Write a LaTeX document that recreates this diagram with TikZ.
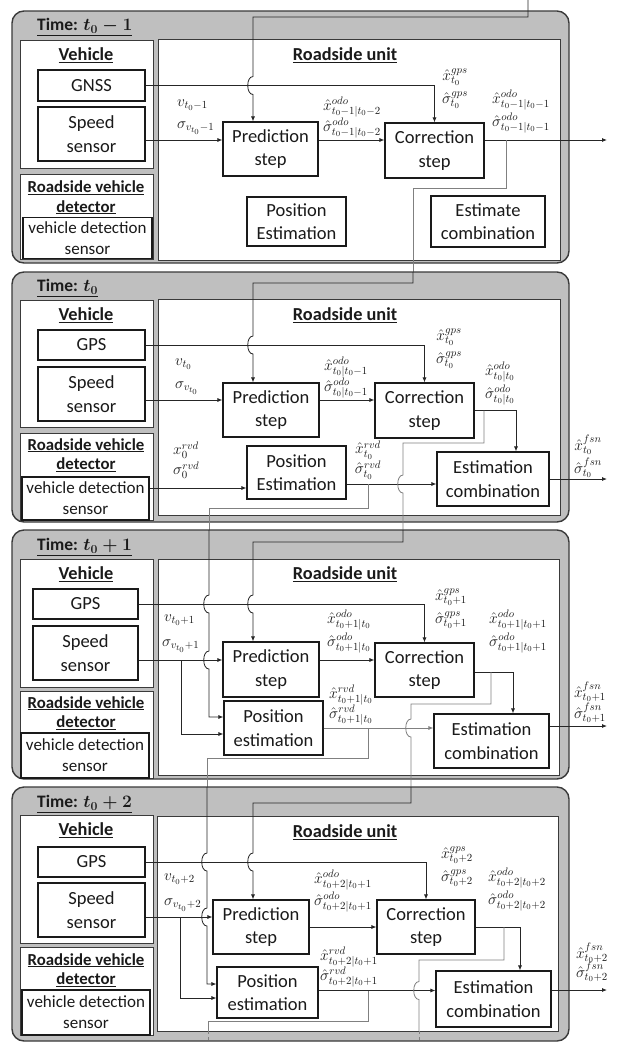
\RequirePackage{fix-cm}
\documentclass[tikz,border=0pt]{standalone}
\usepackage[no-math]{fontspec}
\setmainfont{Carlito}
\usetikzlibrary{arrows.meta,calc}
\definecolor{rsuPanel}{HTML}{BFBFBF}
\definecolor{rsuEdge}{HTML}{3A3A3A}
\definecolor{rsuInk}{HTML}{1A1A1A}
\definecolor{rsuWire}{HTML}{262626}
\definecolor{rsuFeed}{HTML}{808080}
% jump of a vertical wire over a horizontal one
\newcommand{\hop}[1]{-- ($(#1)+(0,-9)$) .. controls +(-7,0) and +(-7,0) .. ($(#1)+(0,9)$)}

\begin{document}
\begin{tikzpicture}[x=1pt,y=-1pt,>={Latex[length=5pt,width=4pt]}]
\useasboundingbox (0,0) rectangle (618,1042);
\path[fill=white] (0,0) rectangle (618,1042);
\tikzset{panel/.style={draw=rsuEdge,fill=rsuPanel,line width=1.4pt,rounded corners=12pt},frame/.style={draw=rsuEdge,fill=white,line width=1pt},
blk/.style={draw=rsuInk,fill=white,line width=1.1pt,align=center,inner sep=0pt,text=rsuInk,font=\fontsize{18.5}{23.5}\selectfont},
sen/.style={blk,font=\fontsize{17}{21}\selectfont},head/.style={align=center,inner sep=0pt,text=rsuInk,font=\bfseries\boldmath\fontsize{18.3}{21}\selectfont},
subhead/.style={head,font=\bfseries\fontsize{16.8}{19.5}\selectfont},timehead/.style={head,anchor=west,font=\bfseries\boldmath\fontsize{17.5}{20}\selectfont},
lbl/.style={inner sep=0pt,text=rsuInk,font=\fontsize{15.5}{17}\selectfont},wire/.style={draw=rsuWire,line width=0.8pt},feed/.style={draw=rsuFeed,line width=0.8pt}}

% ---- Time t0-1
\draw[panel] (12,11) rectangle (569,263);
\node[timehead] (timeA) at (37,27) {\underline{Time: $t_0-1$}};
\draw[frame] (20,40) rectangle (153,168); \node[head] (vehA) at (86,55) {\underline{Vehicle}};
\node[blk,minimum width=107,minimum height=31] (gnssA) at (91.5,85.5) {GNSS};
\node[blk,minimum width=107,minimum height=54] (spdA) at (91.5,134) {Speed\\sensor};
\draw[frame] (20,174) rectangle (153,259); \node[subhead] (rvdA) at (86,197.5) {\underline{Roadside vehicle}\\\underline{detector}};
\node[sen,minimum width=129,minimum height=41] (senA) at (87.5,238) {vehicle detection\\sensor};
\draw[frame] (158,39) rectangle (560,260); \node[head] (rsuA) at (345,55) {\underline{Roadside unit}};
\node[blk,minimum width=95,minimum height=54] (predA) at (270.5,149) {Prediction\\step};
\node[blk,minimum width=99,minimum height=55] (corrA) at (434.5,150.5) {Correction\\step};
\node[blk,minimum width=99,minimum height=49] (posA) at (296.5,221.5) {Position\\Estimation};
\node[blk,minimum width=114,minimum height=51] (combA) at (488,221.5) {Estimate\\combination};
\node[lbl,anchor=west] (vA) at (177,105) {$v_{t_0-1}$}; \node[lbl,anchor=west] (svA) at (177,128) {$\sigma_{v_{t_0}-1}$};
\node[lbl] (xoA) at (352,107) {$\hat{x}^{odo}_{t_0-1|t_0-2}$}; \node[lbl] (soA) at (352,128) {$\hat{\sigma}^{odo}_{t_0-1|t_0-2}$};
\node[lbl] (xgA) at (455,77) {$\hat{x}^{gps}_{t_0}$}; \node[lbl] (sgA) at (455,100) {$\hat{\sigma}^{gps}_{t_0}$};
\node[lbl] (xcA) at (521,100) {$\hat{x}^{odo}_{t_0-1|t_0-1}$}; \node[lbl] (scA) at (521,123) {$\hat{\sigma}^{odo}_{t_0-1|t_0-1}$};
\coordinate (inA) at (528,0); \coordinate (bendA) at (253,17); \coordinate (outA) at (607,140);
\coordinate (tapA) at (506,140); \coordinate (dropA) at (413,188); \coordinate (topB) at (413,272);
\draw[wire,->] (inA) |- (bendA) \hop{bendA |- gnssA.east} -- (bendA |- predA.north);
\draw[wire,->] (gnssA.east) -| (corrA.north);
\draw[wire,->] ([yshift=-6pt]spdA.east) -- ([yshift=-6pt]spdA.east -| predA.west);
\draw[wire,->] ([yshift=9pt]predA.east) -- ([yshift=9pt]predA.east -| corrA.west);
\draw[wire,->] ([yshift=10.5pt]corrA.east) -- (outA);
\draw[feed] (tapA) |- (dropA) -- (topB);

% ---- Time t0
\draw[panel] (12,272) rectangle (569,522);
\node[timehead] (timeB) at (37,288) {\underline{Time: $t_0$}};
\draw[frame] (20,300) rectangle (153,427); \node[head] (vehB) at (86,315) {\underline{Vehicle}};
\node[blk,minimum width=107,minimum height=30] (gpsB) at (91.5,345) {GPS};
\node[blk,minimum width=107,minimum height=54] (spdB) at (91.5,394) {Speed\\sensor};
\draw[frame] (20,433) rectangle (153,520); \node[subhead] (rvdB) at (86,455) {\underline{Roadside vehicle}\\\underline{detector}};
\node[sen,minimum width=127,minimum height=43] (senB) at (85.5,498.5) {vehicle detection\\sensor};
\draw[frame] (158,299) rectangle (560,515); \node[head] (rsuB) at (345,315) {\underline{Roadside unit}};
\node[blk,minimum width=96,minimum height=54] (predB) at (271,410) {Prediction\\step};
\node[blk,minimum width=99,minimum height=55] (corrB) at (424.5,410.5) {Correction\\step};
\node[blk,minimum width=99,minimum height=53] (posB) at (296.5,472.5) {Position\\Estimation};
\node[blk,minimum width=112,minimum height=54] (combB) at (493,479) {Estimation\\combination};
\node[lbl,anchor=west] (vB) at (175,364) {$v_{t_0}$}; \node[lbl,anchor=west] (svB) at (175,388) {$\sigma_{v_{t_0}}$};
\node[lbl] (xoB) at (346,367) {$\hat{x}^{odo}_{t_0|t_0-1}$}; \node[lbl] (soB) at (346,388) {$\hat{\sigma}^{odo}_{t_0|t_0-1}$};
\node[lbl] (xgB) at (449,337) {$\hat{x}^{gps}_{t_0}$}; \node[lbl] (sgB) at (449,360) {$\hat{\sigma}^{gps}_{t_0}$};
\node[lbl] (xcB) at (500,372) {$\hat{x}^{odo}_{t_0|t_0}$}; \node[lbl] (scB) at (500,395) {$\hat{\sigma}^{odo}_{t_0|t_0}$};
\node[lbl,anchor=west] (xrB) at (173,450) {$x^{rvd}_0$}; \node[lbl,anchor=west] (srB) at (173,470) {$\sigma^{rvd}_0$};
\node[lbl] (xpB) at (368,450) {$\hat{x}^{rvd}_{t_0}$}; \node[lbl] (spB) at (368,470) {$\hat{\sigma}^{rvd}_{t_0}$};
\node[lbl] (xfB) at (588,445) {$\hat{x}^{fsn}_{t_0}$}; \node[lbl] (sfB) at (588,468) {$\hat{\sigma}^{fsn}_{t_0}$};
\coordinate (bendB) at (253,283); \coordinate (outB) at (607,479); \coordinate (pcB) at ([yshift=-11.5pt]posB.east);
\coordinate (tapB) at (484,410.5); \coordinate (dropB) at (403,443); \coordinate (topC) at (403,530);
\coordinate (tapPB) at (368,484); \coordinate (dropPB) at (209,508); \coordinate (midC) at (209,530);
\draw[wire,->] (topB) |- (bendB) \hop{bendB |- gpsB.east} -- (bendB |- predB.north);
\draw[wire,->] (gpsB.east) -| (corrB.north);
\draw[wire,->] ([yshift=-6pt]spdB.east) -- ([yshift=-6pt]spdB.east -| predB.west);
\draw[wire,->] ([yshift=10pt]predB.east) -- ([yshift=10pt]predB.east -| corrB.west);
\draw[wire,->] (corrB.east) -| ([xshift=23pt]combB.north);
\draw[wire,->] ([yshift=10.5pt]senB.east) -- ([yshift=10.5pt]senB.east -| posB.west);
\draw[wire,->] (pcB) -- (pcB -| combB.west);
\draw[wire,->] (combB.east) -- (outB);
\draw[feed] (tapB) |- (dropB) \hop{dropB |- pcB} -- (topC);
\draw[feed] (tapPB) |- (dropPB) -- (midC);

% ---- Time t0+1
\draw[panel] (12,530) rectangle (569,779);
\node[timehead] (timeC) at (37,547) {\underline{Time: $t_0+1$}};
\draw[frame] (20,559) rectangle (153,687); \node[head] (vehC) at (86,574) {\underline{Vehicle}};
\node[blk,minimum width=105,minimum height=30] (gpsC) at (85.5,604) {GPS};
\node[blk,minimum width=105,minimum height=54] (spdC) at (85.5,653) {Speed\\sensor};
\draw[frame] (20,691) rectangle (153,778); \node[subhead] (rvdC) at (86,713) {\underline{Roadside vehicle}\\\underline{detector}};
\node[sen,minimum width=128,minimum height=45] (senC) at (85,755.5) {vehicle detection\\sensor};
\draw[frame] (158,559) rectangle (559,775); \node[head] (rsuC) at (345,574) {\underline{Roadside unit}};
\node[blk,minimum width=96,minimum height=55] (predC) at (271,669.5) {Prediction\\step};
\node[blk,minimum width=99,minimum height=54] (corrC) at (424.5,670) {Correction\\step};
\node[blk,minimum width=99,minimum height=54] (posC) at (273.5,728) {Position\\estimation};
\node[blk,minimum width=115,minimum height=54] (combC) at (491.5,741) {Estimation\\combination};
\node[lbl,anchor=west] (vC) at (164,620) {$v_{t_0+1}$}; \node[lbl,anchor=west] (svC) at (162,646) {$\sigma_{v_{t_0}+1}$};
\node[lbl] (xgC) at (451,597) {$\hat{x}^{gps}_{t_0+1}$}; \node[lbl] (sgC) at (451,620) {$\hat{\sigma}^{gps}_{t_0+1}$};
\node[lbl] (xoC) at (349,620) {$\hat{x}^{odo}_{t_0+1|t_0}$}; \node[lbl] (soC) at (349,643) {$\hat{\sigma}^{odo}_{t_0+1|t_0}$};
\node[lbl] (xcC) at (518,620) {$\hat{x}^{odo}_{t_0+1|t_0+1}$}; \node[lbl] (scC) at (518,643) {$\hat{\sigma}^{odo}_{t_0+1|t_0+1}$};
\node[lbl] (xpC) at (351,695) {$\hat{x}^{rvd}_{t_0+1|t_0}$}; \node[lbl] (spC) at (351,715) {$\hat{\sigma}^{rvd}_{t_0+1|t_0}$};
\node[lbl] (xfC) at (590,692) {$\hat{x}^{fsn}_{t_0+1}$}; \node[lbl] (sfC) at (590,713) {$\hat{\sigma}^{fsn}_{t_0+1}$};
\coordinate (bendC) at (253,542); \coordinate (svlC) at ([yshift=-7pt]spdC.east); \coordinate (tapSC) at (181,660);
\coordinate (outC) at (607,726); \coordinate (tapC) at (491,672); \coordinate (dropC) at (411,704); \coordinate (topD) at (411,787);
\coordinate (tapPC) at (368,728); \coordinate (dropPC) at (207,758); \coordinate (midD) at (207,787);
\draw[wire,->] (topC) |- (bendC) \hop{bendC |- gpsC.east} -- (bendC |- predC.north);
\draw[wire,->] (gpsC.east) -| (corrC.north);
\draw[wire,->] (svlC) -- (svlC -| predC.west);
\draw[wire,->] ([yshift=9.5pt]predC.east) -- ([yshift=9.5pt]predC.east -| corrC.west);
\draw[wire,->] ([yshift=-2pt]corrC.east) -| ([xshift=21.5pt]combC.north);
\draw[wire,->] (midC) \hop{midC |- gpsC.east} \hop{midC |- svlC} |- ([yshift=11pt]posC.west);
\draw[wire,->] (tapSC) |- ([yshift=-6pt]posC.west);
\draw[feed,->] (posC.east) -- (posC.east -| combC.west);
\draw[wire,->] ([yshift=15pt]combC.east) -- (outC);
\draw[feed] (tapC) |- (dropC) \hop{dropC |- posC.east} -- (topD);
\draw[feed] (tapPC) |- (dropPC) -- (midD);

% ---- Time t0+2
\draw[panel] (12,787) rectangle (569,1041);
\node[timehead] (timeD) at (37,804) {\underline{Time: $t_0+2$}};
\draw[frame] (20,815) rectangle (153,943); \node[head] (vehD) at (86,830) {\underline{Vehicle}};
\node[blk,minimum width=107,minimum height=30] (gpsD) at (91.5,862) {GPS};
\node[blk,minimum width=107,minimum height=54] (spdD) at (91.5,910) {Speed\\sensor};
\draw[frame] (20,947) rectangle (153,1035); \node[subhead] (rvdD) at (86,970) {\underline{Roadside vehicle}\\\underline{detector}};
\node[sen,minimum width=128,minimum height=45] (senD) at (86,1012.5) {vehicle detection\\sensor};
\draw[frame] (157,816) rectangle (558,1031); \node[head] (rsuD) at (345,832) {\underline{Roadside unit}};
\node[blk,minimum width=96,minimum height=54] (predD) at (261,927) {Prediction\\step};
\node[blk,minimum width=98,minimum height=54] (corrD) at (426,927) {Correction\\step};
\node[blk,minimum width=101,minimum height=51] (posD) at (267.5,992.5) {Position\\estimation};
\node[blk,minimum width=115,minimum height=56] (combD) at (493.5,999) {Estimation\\combination};
\node[lbl,anchor=west] (vD) at (164,879) {$v_{t_0+2}$}; \node[lbl,anchor=west] (svD) at (164,905) {$\sigma_{v_{t_0}+2}$};
\node[lbl] (xoD) at (343,880) {$\hat{x}^{odo}_{t_0+2|t_0+1}$}; \node[lbl] (soD) at (343,902) {$\hat{\sigma}^{odo}_{t_0+2|t_0+1}$};
\node[lbl] (xgD) at (457,855) {$\hat{x}^{gps}_{t_0+2}$}; \node[lbl] (sgD) at (457,878) {$\hat{\sigma}^{gps}_{t_0+2}$};
\node[lbl] (xcD) at (517,878) {$\hat{x}^{odo}_{t_0+2|t_0+2}$}; \node[lbl] (scD) at (517,901) {$\hat{\sigma}^{odo}_{t_0+2|t_0+2}$};
\node[lbl] (xpD) at (349,957) {$\hat{x}^{rvd}_{t_0+2|t_0+1}$}; \node[lbl] (spD) at (349,977) {$\hat{\sigma}^{rvd}_{t_0+2|t_0+1}$};
\node[lbl] (xfD) at (592,953) {$\hat{x}^{fsn}_{t_0+2}$}; \node[lbl] (sfD) at (592,972) {$\hat{\sigma}^{fsn}_{t_0+2}$};
\coordinate (bendD) at (253,803); \coordinate (svlD) at ([yshift=-7pt]spdD.east); \coordinate (tapSD) at (180,917);
\coordinate (pcD) at ([yshift=2pt]posD.east); \coordinate (outD) at (607,990);
\coordinate (tapD) at (504,927); \coordinate (dropD) at (419,960); \coordinate (endD) at (419,1031); \coordinate (tailD) at (419,1042);
\coordinate (tapPD) at (368,990.5); \coordinate (dropPD) at (208,1021); \coordinate (endPD) at (208,1031); \coordinate (tailPD) at (208,1042);
\draw[wire,->] (topD) |- (bendD) \hop{bendD |- gpsD.east} -- (bendD |- predD.north);
\draw[wire,->] (gpsD.east) -| (corrD.north);
\draw[wire,->] (svlD) -- (svlD -| predD.west);
\draw[wire,->] (predD.east) -- (predD.east -| corrD.west);
\draw[wire,->] (corrD.east) -| ([xshift=26.5pt]combD.north);
\draw[wire,->] (midD) \hop{midD |- gpsD.east} \hop{midD |- svlD} |- ([yshift=8.5pt]posD.west);
\draw[wire,->] (tapSD) |- ([yshift=-5.5pt]posD.west);
\draw[wire,->] (pcD) -- (pcD -| combD.west);
\draw[wire,->] ([yshift=9pt]combD.east) -- (outD);
\draw[feed] (tapD) |- (dropD) \hop{dropD |- pcD} -- (endD); \draw[feed,dashed] (endD) -- (tailD);
\draw[feed] (tapPD) |- (dropPD) -- (endPD); \draw[feed,dashed] (endPD) -- (tailPD);
\end{tikzpicture}
\end{document}
